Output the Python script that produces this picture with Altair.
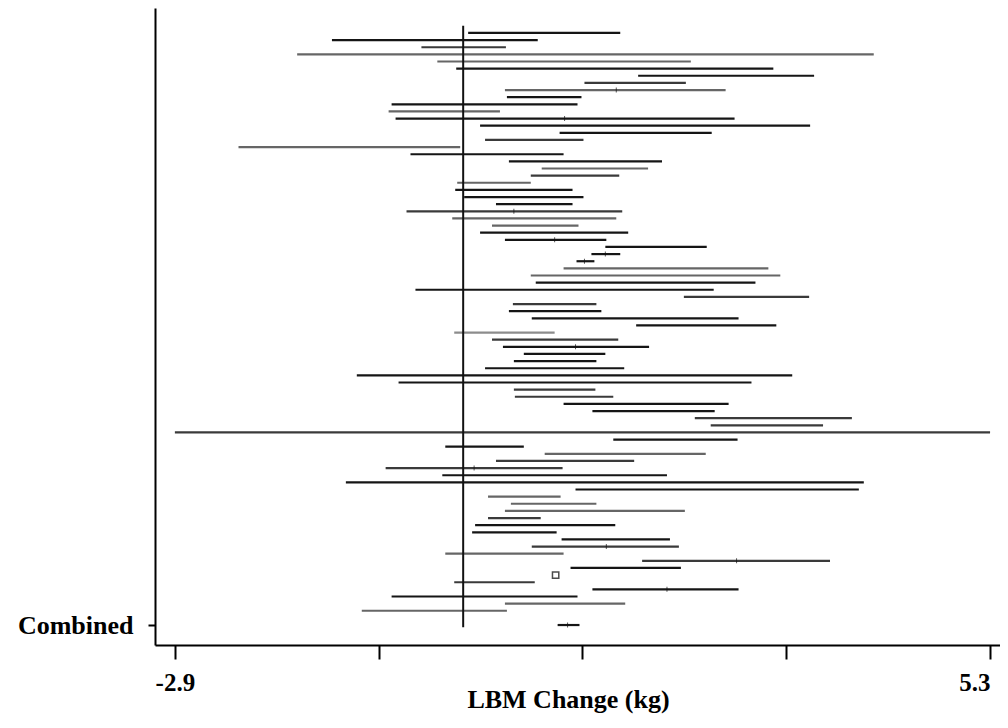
import altair as alt
import pandas as pd

NAN = float("nan")

# Study confidence intervals (kg), top to bottom
lo = [0.05, -1.32, -0.42, -1.67, -0.26, -0.07, 1.76, 1.22, 0.42, 0.44,
      -0.72, -0.75, -0.68, 0.17, 0.97, 0.22, -2.26, -0.53, 0.46, 0.79,
      0.68, -0.06, -0.08, 0.01, 0.33, -0.57, -0.11, 0.29, 0.17, 0.42,
      1.43, 1.29, 1.14, 1.01, 0.68, 0.73, -0.48, 2.22, 0.50, 0.46,
      0.69, 1.74, -0.09, 0.29, 0.40, 0.61, 0.51, 0.22, -1.07, -0.65,
      0.51, 0.52, 1.01, 1.30, 2.33, 2.49, -2.90, 1.51, -0.18, 0.82,
      0.33, -0.78, -0.21, -1.18, 1.13, 0.25, 0.48, 0.42, 0.25, 0.12,
      0.09, 0.99, 0.69, -0.18, 1.80, 1.08, NAN, -0.09, 1.30, -0.72,
      0.42, -1.02]
hi = [1.58, 0.75, 0.43, 4.13, 2.29, 3.12, 3.53, 2.24, 2.64, 1.19,
      1.15, 0.37, 2.73, 3.49, 2.50, 1.21, -0.03, 1.01, 2.00, 1.86,
      1.57, 0.68, 1.10, 1.21, 1.10, 1.60, 1.54, 1.16, 1.66, 1.44,
      2.45, 1.58, 1.32, 3.07, 3.19, 2.94, 2.52, 3.48, 1.34, 1.39,
      2.77, 3.15, 0.92, 1.56, 1.87, 1.43, 1.34, 1.62, 3.31, 2.90,
      1.33, 1.51, 2.67, 2.53, 3.91, 3.62, 5.30, 2.76, 0.61, 2.44,
      1.72, 1.00, 2.05, 4.03, 3.98, 0.98, 1.34, 2.23, 0.78, 1.53,
      0.94, 2.08, 2.17, 1.01, 3.69, 2.19, NAN, 0.72, 2.77, 1.15,
      1.63, 0.44]
shade = ["d", "d", "m", "l", "l", "d", "d", "m", "l", "d",
         "d", "l", "d", "d", "d", "m", "l", "d", "d", "l",
         "m", "l", "d", "d", "d", "m", "l", "l", "d", "d",
         "d", "d", "d", "l", "l", "d", "d", "m", "m", "d",
         "d", "d", "v", "m", "d", "d", "d", "d", "d", "d",
         "m", "m", "d", "d", "m", "m", "m", "d", "d", "l",
         "m", "m", "d", "d", "d", "l", "l", "l", "m", "d",
         "d", "d", "m", "l", "m", "d", "d", "m", "d", "d",
         "l", "l"]

# visible point-estimate marks (study number, estimate)
est_row = [9, 13, 26, 30, 32, 33, 45, 62, 73, 75, 79]
est_val = [1.54, 1.02, 0.51, 0.92, 1.43, 1.22, 1.13, 0.11, 1.44, 2.75, 2.05]

# study with a square marker only
sq_row = [77]
sq_val = [0.93]

# combined estimate
comb_row = 84
comb_lo, comb_est, comb_hi = 0.95, 1.05, 1.17

n = len(lo)
studies = pd.DataFrame({"row": list(range(1, n + 1)), "lo": lo, "hi": hi, "shade": shade})
studies = studies.dropna()
comb = pd.DataFrame({"row": [comb_row], "lo": [comb_lo], "hi": [comb_hi], "shade": ["d"]})
ci = pd.concat([studies, comb], ignore_index=True)
ests = pd.DataFrame({"row": est_row + [comb_row], "lo": est_val + [comb_est]})
sq = pd.DataFrame({"row": sq_row, "lo": sq_val})
ref = pd.DataFrame({"lo": [0.0], "row": [0.0], "row2": [84.3]})

FONT = "Liberation Serif"
xscale = alt.Scale(domain=[-3.10, 5.40], nice=False, zero=False)
yscale = alt.Scale(domain=[-2.5, 86.8], reverse=True, nice=False, zero=False)

xaxis = alt.Axis(values=[-2.9, -0.85, 1.2, 3.25, 5.3],
                 labelExpr="datum.value < -2 ? '-2.9' : (datum.value > 5 ? '5.3' : '')",
                 labelAlign={"condition": {"test": "datum.value > 5", "value": "right"},
                             "value": "center"},
                 title="LBM Change (kg)", tickSize=14, labelPadding=11,
                 titleX=413, titleY=62, titleBaseline="alphabetic",
                 titleFont=FONT, titleFontWeight="bold",
                 titleFontSize=26, labelFontSize=25, labelFlush=False)
yaxis = alt.Axis(values=[84], labelExpr="'Combined'", title=None, tickSize=7,
                 labelPadding=15, labelFontSize=26, labelBaseline="middle")

X = alt.X("lo:Q", scale=xscale, axis=xaxis)
Y = alt.Y("row:Q", scale=yscale, axis=yaxis)

lines = alt.Chart(ci).mark_rule(strokeWidth=2.2).encode(
    x=X, x2="hi:Q", y=Y,
    color=alt.Color("shade:N", legend=None,
                    scale=alt.Scale(domain=["d", "m", "l", "v"],
                                    range=["#151515", "#3a3a3a", "#666666", "#8c8c8c"])),
)

ticks = alt.Chart(ests).mark_tick(color="#111111", size=5, thickness=1).encode(x=X, y=Y)

square = alt.Chart(sq).mark_point(shape="square", filled=False, color="black",
                                  size=40, strokeWidth=1.5).encode(x=X, y=Y)

refline = alt.Chart(ref).mark_rule(color="#111111", strokeWidth=2).encode(
    x=X, y=Y, y2="row2:Q",
)

chart = alt.layer(lines, refline, ticks, square).properties(
    width=845, height=637,
    autosize=alt.AutoSizeParams(type="none"),
    padding={"left": 147, "top": 0, "right": 0, "bottom": 70},
    background="white",
).configure_view(stroke=None).configure_axis(
    grid=False, domainColor="black", domainWidth=2, tickColor="black", tickWidth=2,
    labelFont=FONT, titleFont=FONT, labelFontWeight="bold", titleFontWeight="bold",
    labelColor="black", titleColor="black",
)

chart.save("out.html", embed_options={"renderer": "svg", "actions": False})
